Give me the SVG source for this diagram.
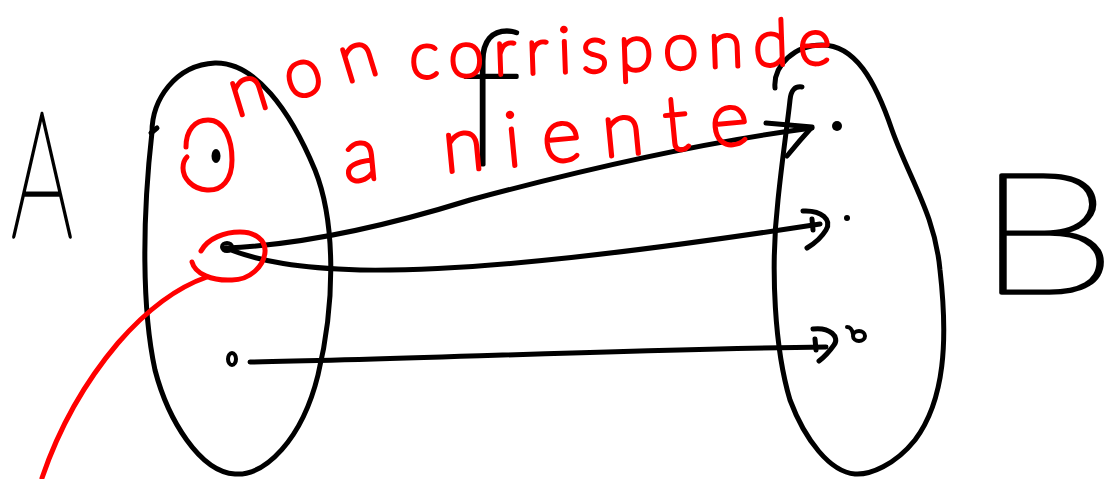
<svg xmlns="http://www.w3.org/2000/svg" width="1104" height="479" viewBox="0 0 1104 479">
<style>
.ink{fill:none;stroke:#000;stroke-width:5;stroke-linecap:round;stroke-linejoin:round}
.red{fill:none;stroke:#ff0000;stroke-width:5;stroke-linecap:round;stroke-linejoin:round}
.dot{fill:#000}
.ring{fill:none;stroke:#000;stroke-width:4}
.hw{font-family:Lato,"Liberation Sans",sans-serif;font-weight:100;stroke-linejoin:round;stroke-linecap:round}
.hwk{fill:#000;stroke:#000;stroke-width:3.5}
.hwr{fill:#ff0000;stroke:#ff0000;stroke-width:4.2}
</style>
<rect width="1104" height="479" fill="#fff"/>
<g id="setA">
<path class="ink" d="M157,128 L151,133"/>
<path class="ink" d="M152,132 C152,100 175,65 215,63 C255,62 290,110 315,170 C335,220 336,300 318,375 C302,440 265,476 235,474 C200,472 168,420 155,370 C142,310 142,220 152,132"/>
<ellipse class="dot" cx="216" cy="156" rx="4.5" ry="7"/>
<ellipse class="ring" cx="227" cy="247" rx="5" ry="4"/>
<ellipse class="ring" cx="232" cy="359" rx="4" ry="6"/>
<text class="hw hwk" x="11" y="237" font-size="176" textLength="62" lengthAdjust="spacingAndGlyphs">A</text>
</g>
<g id="setB">
<path class="ink" d="M775,88 C773,65 795,45 822,45 C855,45 875,80 892,130 C910,180 935,215 940,270 C948,340 945,400 915,440 C895,465 870,475 855,474 C830,472 805,440 790,400 C775,350 770,270 778,200 C782,160 788,120 790,100 C791,90 795,86 802,87"/>
<circle class="dot" cx="837" cy="126" r="5"/>
<circle class="dot" cx="847" cy="218" r="3"/>
<ellipse class="ring" cx="859" cy="336" rx="6" ry="5"/>
<path class="ink" style="stroke-width:4" d="M853,334 C852,329 850,327 847,327"/>
<text class="hw hwk" x="975" y="293" font-size="168" textLength="142" lengthAdjust="spacingAndGlyphs">B</text>
</g>
<g id="label-f">
<text class="hw hwk" x="459" y="165" font-size="190">f</text>
</g>
<g id="connectors">
<path class="ink" d="M226,248 C300,245 380,228 470,200 C600,165 720,140 812,128"/>
<path class="ink" d="M766,123 L812,127 Q800,140 787,156"/>
<path class="ink" d="M226,248 C260,262 300,268 360,270 C480,272 650,250 820,224"/>
<path class="ink" d="M803,211 C822,210 832,220 826,230 C820,240 812,245 807,248 M812,219 L813,230"/>
<path class="ink" d="M250,362 C400,360 600,350 826,347"/>
<path class="ink" d="M813,329 C830,327 840,337 834,345 C829,352 823,358 819,361 M815,339 L816,350"/>
</g>
<g id="annotations">
<path class="red" d="M186,147 C186,130 195,120 208,120 C225,120 232,140 232,160 C232,180 222,191 207,190 C192,189 183,178 183,168 C183,163 185,159 187,157"/>
<path class="red" d="M201,251 C208,238 225,232 240,232 C255,232 266,240 265,252 C264,266 250,280 232,280 C212,281 195,274 192,262"/>
<path class="red" d="M207,277 C175,288 145,312 118,343 C85,382 60,425 42,478"/>
<text class="hw hwr" transform="translate(236,117) rotate(-17)" font-size="68" textLength="152" lengthAdjust="spacing">non</text>
<text class="hw hwr" transform="translate(410,78) rotate(-2)" font-size="64" textLength="422" lengthAdjust="spacing">corrisponde</text>
<text class="hw hwr" transform="translate(345,182) rotate(-5.5)" font-size="76" textLength="408" lengthAdjust="spacing">a niente</text>
</g>
</svg>
